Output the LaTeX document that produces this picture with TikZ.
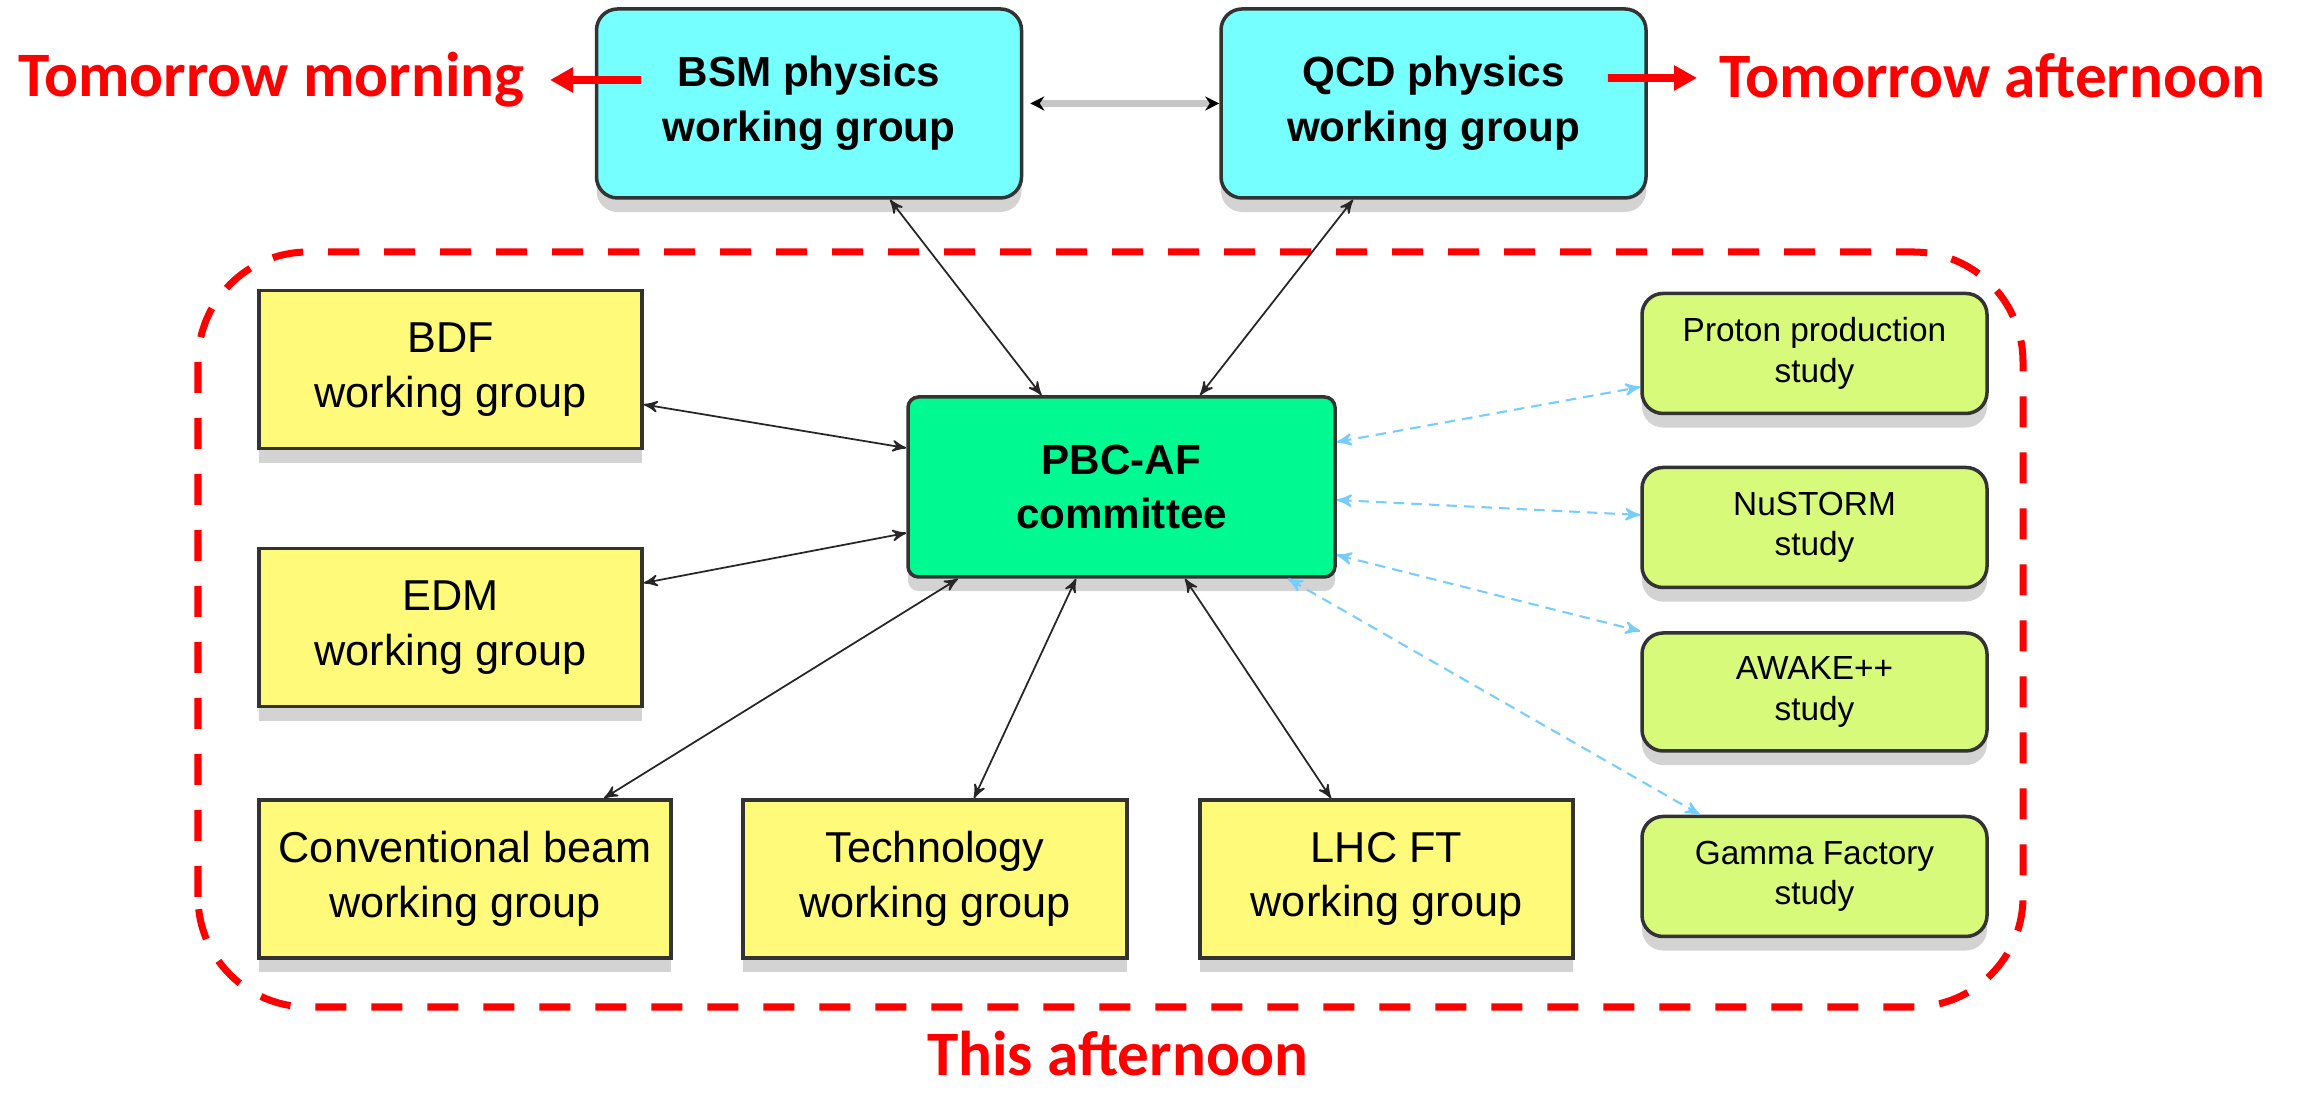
\documentclass[tikz,border=0pt]{standalone}
\usepackage{fontspec}
\setmainfont{Liberation Sans}
\newfontfamily\calibri{Carlito}
\usetikzlibrary{arrows,arrows.meta,shadows}

\definecolor{pgcyan}{RGB}{117,255,255}
\definecolor{afgreen}{RGB}{0,250,145}
\definecolor{wgyellow}{RGB}{255,250,122}
\definecolor{stgreen}{RGB}{216,250,122}
\definecolor{stblue}{RGB}{120,205,255}

\begin{document}
\begin{tikzpicture}[
	thick,
	>=stealth',
	box/.style = {
		draw = black!80,
		line width = 1pt,
		align = center,
		inner sep = 0pt,
		drop shadow = {opacity = 0.35, shadow xshift = 0pt, shadow yshift = -4pt}
	},
	pg/.style = {
		box,
		rounded corners = 6pt,
		fill = pgcyan,
		minimum width = 4.25cm,
		minimum height = 1.89cm,
		font = \fontsize{12}{15.6}\selectfont\bfseries
	},
	af/.style = {
		box,
		rounded corners = 3pt,
		fill = afgreen,
		minimum width = 4.27cm,
		minimum height = 1.80cm,
		font = \fontsize{12}{15.6}\selectfont\bfseries
	},
	wg/.style = {
		box,
		fill = wgyellow,
		minimum height = 1.58cm,
		font = \fontsize{12.3}{15.5}\selectfont
	},
	st/.style = {
		box,
		rounded corners = 6pt,
		fill = stgreen,
		minimum width = 3.45cm,
		minimum height = 1.2cm,
		font = \fontsize{9.5}{11.5}\selectfont
	},
	link/.style = {<->, black!85, line width = 0.5pt},
	stlink/.style = {<->, stblue, line width = 0.6pt, dash pattern = on 3pt off 2pt},
	note/.style = {red, anchor = base, inner sep = 0pt, font = \calibri\fontsize{18}{20}\selectfont\bfseries},
	notearrow/.style = {red, line width = 2.2pt, -{Triangle[length = 0.23cm, width = 0.24cm]}}
	]
	\useasboundingbox (0,0) rectangle (23.01,10.98);

	% this afternoon
	\draw[red, line width = 2pt, dash pattern = on 0.31cm off 0.25cm, rounded corners = 1.1cm]
		(1.98,0.91) rectangle (20.23,8.46);

	\node[pg] (bsm) at (8.09,9.945) {BSM physics\\working group};
	\node[pg] (qcd) at (14.335,9.945) {QCD physics\\working group};
	\node[af] (pbc) at (11.215,6.11) {PBC-AF\\committee};

	\node[wg, minimum width = 3.83cm] (bdf) at (4.505,7.285) {BDF\\working group};
	\node[wg, minimum width = 3.83cm] (edm) at (4.505,4.705) {EDM\\working group};
	\node[wg, minimum width = 4.12cm] (conv) at (4.65,2.19) {Conventional beam\\working group};
	\node[wg, minimum width = 3.84cm] (tech) at (9.35,2.19) {Technology\\working group};
	\node[wg, minimum width = 3.73cm] (lhc) at (13.865,2.19) {LHC FT\\working group};

	\node[st] (proton) at (18.145,7.445) {Proton production\\study};
	\node[st] (nustorm) at (18.145,5.705) {NuSTORM\\study};
	\node[st, minimum height = 1.18cm] (awake) at (18.145,4.06) {AWAKE++\\study};
	\node[st] (gamma) at (18.145,2.215) {Gamma Factory\\study};

	\node[note] (morning) at (2.715,10.01) {Tomorrow morning};
	\node[note] (afternoon) at (19.925,10.0) {Tomorrow afternoon};
	\node[note] (today) at (11.175,0.22) {This afternoon};

	\coordinate (morningtip) at (5.50,10.18);
	\coordinate (afternoontip) at (16.97,10.20);
	\draw[notearrow] ([shift = {(0.46,0.235)}]bsm.west) -- (morningtip);
	\draw[notearrow] ([shift = {(-0.4,0.255)}]qcd.east) -- (afternoontip);

	\draw[gray!45, line width = 2pt,
		{Stealth[black, length = 4pt, width = 4pt]}-{Stealth[black, length = 4pt, width = 4pt]}]
		([xshift = 0.07cm]bsm.east) -- (qcd.west);

	\draw[link] ([xshift = 0.81cm]bsm.south) -- ([xshift = -0.8cm]pbc.north);
	\draw[link] ([xshift = -0.805cm]qcd.south) -- ([xshift = 0.785cm]pbc.north);
	\draw[link] ([yshift = -0.35cm]bdf.east) -- ([yshift = 0.39cm]pbc.west);
	\draw[link] ([yshift = 0.445cm]edm.east) -- ([yshift = -0.46cm]pbc.west);
	\draw[link] ([xshift = -1.635cm]pbc.south) -- ([xshift = 1.39cm]conv.north);
	\draw[link] ([xshift = -0.455cm]pbc.south) -- ([xshift = 0.39cm]tech.north);
	\draw[link] ([xshift = 0.635cm]pbc.south) -- ([xshift = -0.555cm]lhc.north);

	\draw[stlink] ([yshift = 0.45cm]pbc.east) -- ([yshift = -0.335cm]proton.west);
	\draw[stlink] ([yshift = -0.13cm]pbc.east) -- ([yshift = 0.125cm]nustorm.west);
	\draw[stlink] ([yshift = -0.68cm]pbc.east) -- (awake.north west);
	\draw[stlink] ([xshift = 1.665cm]pbc.south) -- ([xshift = -1.145cm]gamma.north);
\end{tikzpicture}
\end{document}
